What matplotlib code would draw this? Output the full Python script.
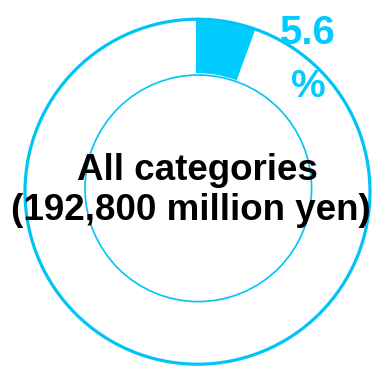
import matplotlib
matplotlib.use("Agg")
import matplotlib.pyplot as plt
from matplotlib.patches import Circle

# Data
shares = [5.6, 94.4]
share_label = "5.6"
pct_sign = "%"
center_line1 = "All categories"
center_line2 = "(192,800 million yen)"

W, H = 374, 370
fig = plt.figure(figsize=(W / 100, H / 100), dpi=100)
ax = fig.add_axes([0, 0, 1, 1])

cx, cy = 196, H - 191
R_out = 173
ring_w = 55

ax.pie(shares, colors=['#00CCFF', 'none'], startangle=90, counterclock=False,
       radius=R_out, center=(cx, cy),
       wedgeprops=dict(width=ring_w, linewidth=0))

ax.add_patch(Circle((197.5, H - 191.7), 172.5, fill=False, ec='#00C4F6', lw=2.3))
ax.add_patch(Circle((198.3, H - 188.3), 113.3, fill=False, ec='#00C4F6', lw=1.2))

ax.set_xlim(0, W)
ax.set_ylim(0, H)
ax.set_aspect('auto')
ax.axis('off')

ax.text(308, H - 44, share_label, ha='center', va='baseline', fontsize=29,
        fontweight='bold', color='#00CCFF', family='Liberation Sans')
ax.text(308, H - 97, pct_sign, ha='center', va='baseline', fontsize=28,
        fontweight='bold', color='#00CCFF', family='Liberation Sans')

ax.text(197, H - 180, center_line1, ha='center', va='baseline', fontsize=26.5,
        fontweight='bold', color='black', family='Liberation Sans')
ax.text(191, H - 220, center_line2, ha='center', va='baseline', fontsize=26.5,
        fontweight='bold', color='black', family='Liberation Sans')

fig.savefig("out.png", dpi=100)
